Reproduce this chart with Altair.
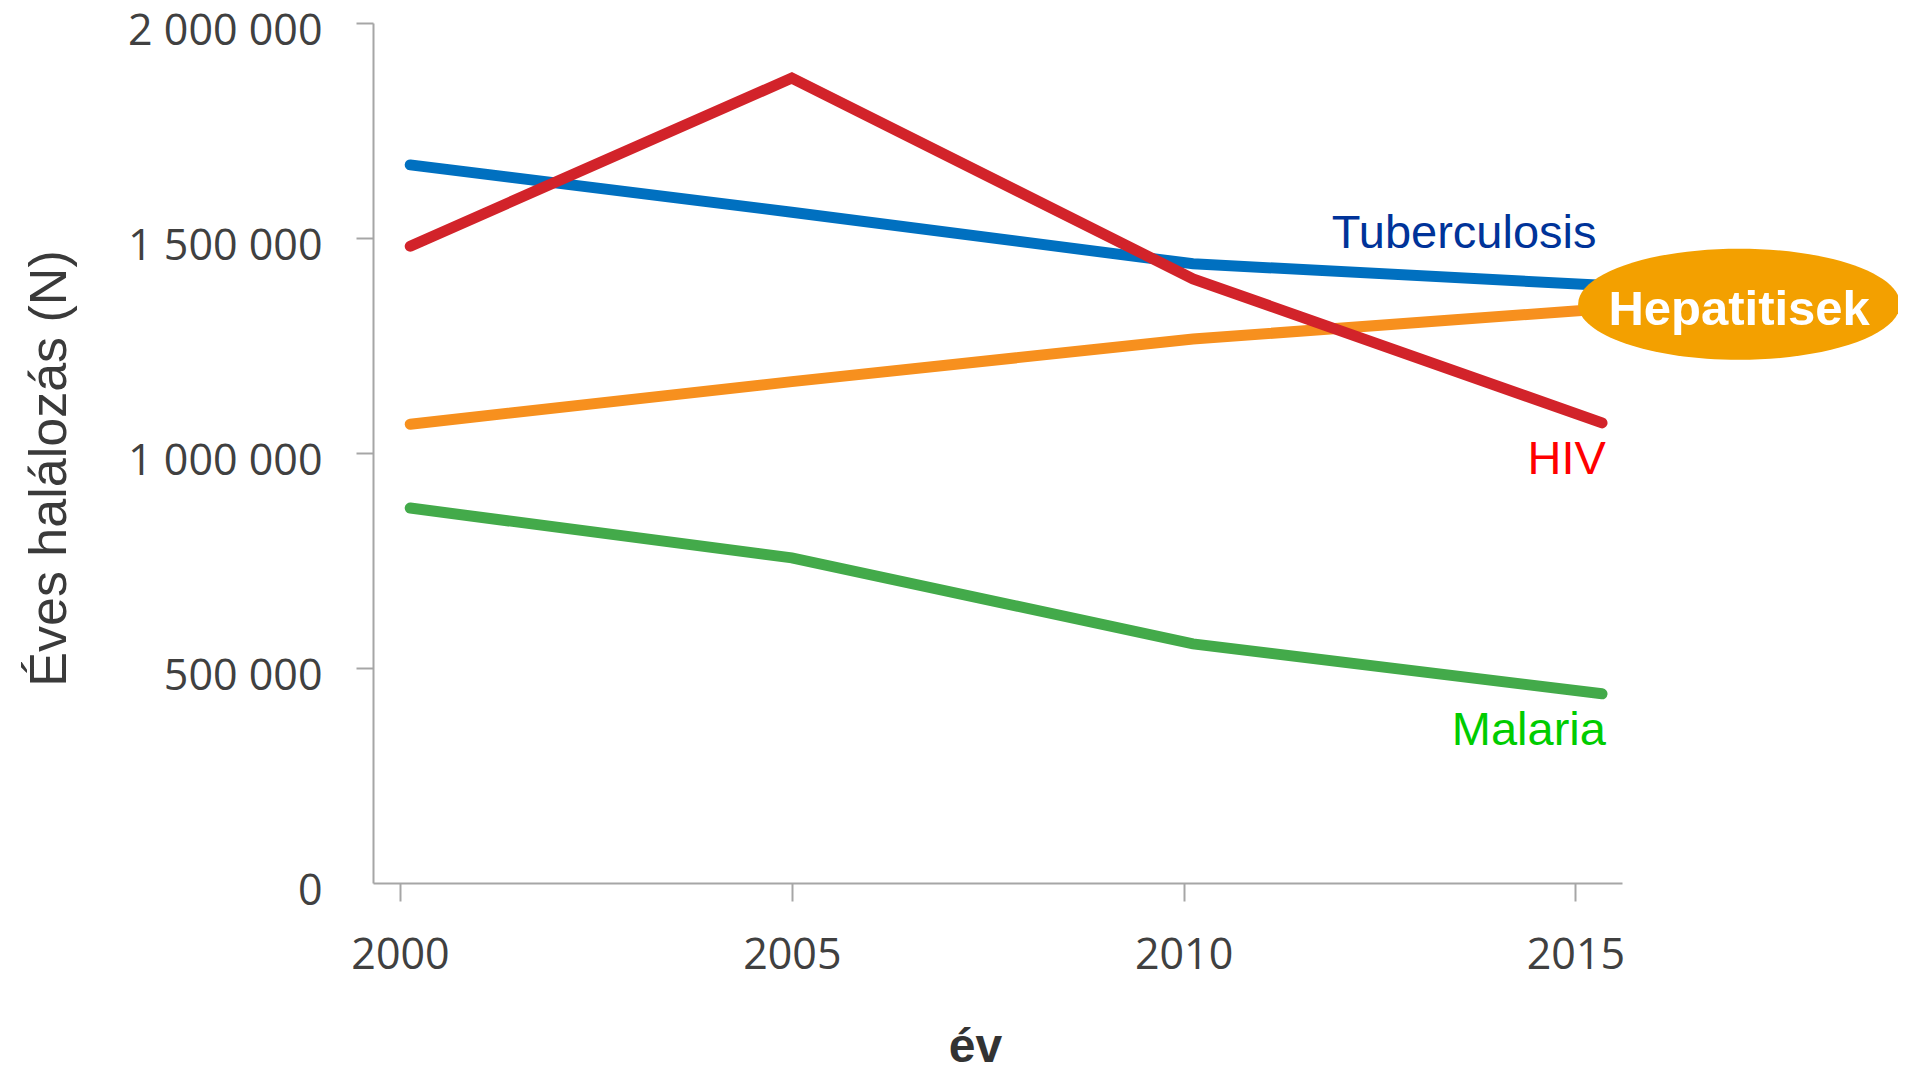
import altair as alt
import pandas as pd

# ---- data ----
years = [2000.13, 2005.0, 2010.12, 2015.34]
tuberculosis = [1670000, 1560000, 1440000, 1390000]
hepatitis = [1067000, 1166000, 1265000, 1335000]
hiv = [1481000, 1872000, 1405000, 1070000]
malaria = [872000, 756000, 556000, 440000]

series_order = ["Malaria", "Hepatitisek", "Tuberculosis", "HIV"]
series_values = {
    "Tuberculosis": tuberculosis,
    "Hepatitisek": hepatitis,
    "HIV": hiv,
    "Malaria": malaria,
}
line_colors = ["#43AA4A", "#F7901E", "#0070C0", "#D2232A"]

y_ticks = [0, 500000, 1000000, 1500000, 2000000]
x_ticks = [2000, 2005, 2010, 2015]

# labels placed in data coordinates
label_names = ["Tuberculosis", "HIV", "Malaria"]
label_x = [2015.27, 2015.39, 2015.39]
label_y = [1476000, 951000, 321000]
label_colors = ["#003399", "#FF0000", "#00CC00"]

bubble_text = "Hepatitisek"
bubble_x = 2017.09
bubble_y = 1346000
bubble_text_y = 1298000

rows = []
for i, name in enumerate(series_order):
    for yr, v in zip(years, series_values[name]):
        rows.append({"series": name, "year": yr, "value": v, "order": i})
df = pd.DataFrame(rows)

labels_df = pd.DataFrame({"label": label_names, "x": label_x, "y": label_y, "color": label_colors})
bubble_df = pd.DataFrame({"label": [bubble_text], "x": [bubble_x], "y": [bubble_y], "ty": [bubble_text_y]})

x_scale = alt.Scale(domain=[1999.655, 2015.595], nice=False, zero=False)
y_scale = alt.Scale(domain=[0, 2000000], nice=False)

axis_gray = "#A6A6A6"

x_axis = alt.Axis(
    values=x_ticks, format="d", title="év",
    tickSize=18, tickWidth=2, tickColor=axis_gray,
    domainColor=axis_gray, domainWidth=2,
    labelFont="Open Sans", labelFontSize=43, labelColor="#404040",
    labelPadding=33, labelFlush=False, labelOverlap=False, labelLimit=500, grid=False,
    titleFont="Liberation Sans", titleFontSize=48, titleFontWeight="bold",
    titleColor="#333333", titleX=602, titleY=178, titleAlign="center",
    titleBaseline="alphabetic",
)
y_axis = alt.Axis(
    values=y_ticks, title="Éves halálozás (N)",
    labelExpr="replace(format(datum.value, ','), regexp(',', 'g'), ' ')",
    tickSize=17, tickWidth=2,
    tickColor={"condition": {"test": "datum.value === 0", "value": "transparent"}, "value": axis_gray},
    domainColor=axis_gray, domainWidth=2,
    labelFont="Open Sans", labelFontSize=43, labelColor="#404040",
    labelPadding=34, labelOffset=8, labelFlush=False, labelOverlap=False, labelLimit=500, grid=False,
    titleFont="Liberation Sans", titleFontSize=52, titleFontWeight="normal",
    titleColor="#3a3a3a", titleAngle=270, titleX=-308, titleY=445,
    titleAlign="center", titleBaseline="alphabetic",
)

lines = alt.Chart(df).mark_line(strokeWidth=11, strokeCap="round", strokeJoin="miter").encode(
    x=alt.X("year:Q", scale=x_scale, axis=x_axis),
    y=alt.Y("value:Q", scale=y_scale, axis=y_axis),
    color=alt.Color("series:N", scale=alt.Scale(domain=series_order, range=line_colors), legend=None),
    order=alt.Order("order:Q"),
    detail="series:N",
)

texts = alt.Chart(labels_df).mark_text(
    font="Liberation Sans", fontSize=47, align="right", baseline="alphabetic"
).encode(
    x=alt.X("x:Q", scale=x_scale),
    y=alt.Y("y:Q", scale=y_scale),
    text="label:N",
    color=alt.Color("color:N", scale=None),
)

ellipse_path = "M-1,0A1,0.345,0,1,1,1,0A1,0.345,0,1,1,-1,0Z"
bubble = alt.Chart(bubble_df).mark_point(
    shape=ellipse_path, filled=True, size=322 * 322, color="#F3A000", opacity=1, strokeWidth=0
).encode(
    x=alt.X("x:Q", scale=x_scale),
    y=alt.Y("y:Q", scale=y_scale),
)
bubble_label = alt.Chart(bubble_df).mark_text(
    font="Liberation Sans", fontSize=49, fontWeight="bold", color="white",
    align="center", baseline="alphabetic"
).encode(
    x=alt.X("x:Q", scale=x_scale),
    y=alt.Y("ty:Q", scale=y_scale),
    text="label:N",
)

chart = alt.layer(lines, texts, bubble, bubble_label).properties(
    width=1249, height=860,
    background="white",
    autosize=alt.AutoSizeParams(type="none"),
    padding={"left": 365, "top": 15, "right": 276, "bottom": 188},
).configure_view(strokeWidth=0)

chart.save("out.html", embed_options={"renderer": "svg", "actions": False})
